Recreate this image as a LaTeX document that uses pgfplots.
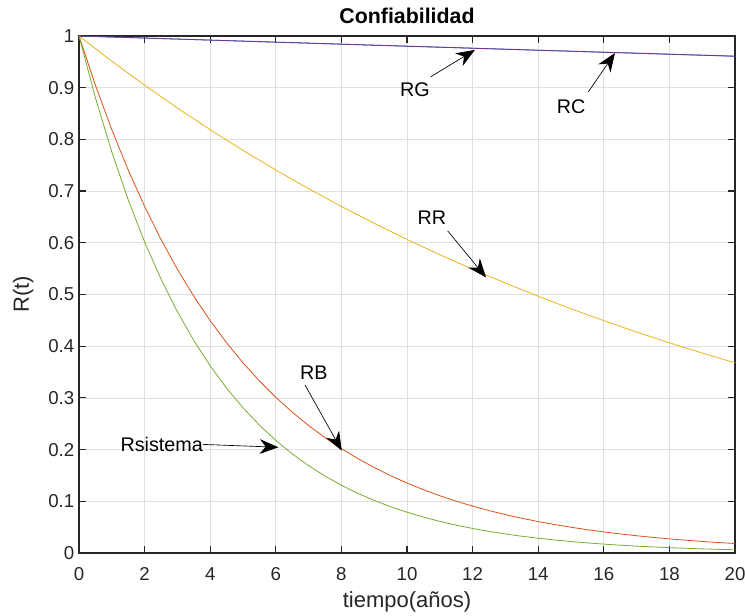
\documentclass[border=0pt]{standalone}
\usepackage{fontspec}
\setmainfont{Liberation Sans}
\usepackage{pgfplots}
\pgfplotsset{compat=1.18}
\usetikzlibrary{arrows.meta}
\definecolor{mblue}{rgb}{0,0.447,0.741}
\definecolor{mpurple}{rgb}{0.494,0.184,0.556}
\definecolor{myellow}{rgb}{0.929,0.694,0.125}
\definecolor{morange}{rgb}{0.850,0.325,0.098}
\definecolor{mgreen}{rgb}{0.466,0.674,0.188}
\definecolor{axgray}{rgb}{0.15,0.15,0.15}
\tikzset{
  annot/.style={font=\fontsize{14.8}{16}\selectfont},
  arr/.style={-{Stealth[length=14pt,width=11pt,inset=4.5pt]}, line width=0.5pt, black},
}
\begin{document}
\begin{tikzpicture}
\begin{axis}[at={(0,0)}, anchor=south west, scale only axis,
  width=492pt, height=387.75pt,
  xmin=0, xmax=20, ymin=0, ymax=1,
  xtick={0,2,4,6,8,10,12,14,16,18,20},
  ytick={0,0.1,0.2,0.3,0.4,0.5,0.6,0.7,0.8,0.9,1},
  grid=major, grid style={color=black!12, line width=0.5pt},
  axis line style={color=axgray, line width=0.9pt},
  tick style={color=axgray, line width=0.9pt},
  tick align=inside, major tick length=5.5pt,
  ticklabel style={font=\fontsize{14}{16}\selectfont, color=axgray},
  xticklabel style={yshift=-7.5pt},
  /pgf/number format/assume math mode=true,
  xlabel={tiempo(años)}, ylabel={R(t)},
  label style={font=\fontsize{16.5}{18}\selectfont, color=axgray},
  xlabel style={at={(axis description cs:0.5,-0.095)}, anchor=center},
  ylabel style={at={(axis description cs:-0.085,0.5)}, anchor=center},
  title={Confiabilidad},
  title style={font=\bfseries\fontsize{16}{18}\selectfont},
]
% RG
\addplot[mblue, line width=0.6pt] coordinates {(0,1) (5,0.99005) (10,0.980199) (15,0.970446) (20,0.960789)};
% RC
\addplot[mpurple, line width=0.6pt] coordinates {(0,1) (5,0.99010) (10,0.980300) (15,0.970600) (20,0.961000)};
% RR
\addplot[myellow, line width=0.6pt] coordinates {
(0,1) (1,0.951229) (2,0.904837) (3,0.860708) (4,0.818731) (5,0.778801)
(6,0.740818) (7,0.704688) (8,0.670320) (9,0.637628) (10,0.606531)
(11,0.576950) (12,0.548812) (13,0.522046) (14,0.496585) (15,0.472367)
(16,0.449329) (17,0.427415) (18,0.406570) (19,0.386741) (20,0.367879)};
% RB
\addplot[morange, line width=0.6pt] coordinates {
(0,1) (0.5,0.904837) (1,0.818731) (1.5,0.740818) (2,0.670320) (2.5,0.606531)
(3,0.548812) (3.5,0.496585) (4,0.449329) (4.5,0.406570) (5,0.367879)
(5.5,0.332871) (6,0.301194) (6.5,0.272532) (7,0.246597) (7.5,0.223130)
(8,0.201897) (8.5,0.182684) (9,0.165299) (9.5,0.149569) (10,0.135335)
(10.5,0.122456) (11,0.110803) (11.5,0.100259) (12,0.090718) (12.5,0.082085)
(13,0.074274) (13.5,0.067206) (14,0.060810) (14.5,0.055023) (15,0.049787)
(15.5,0.045049) (16,0.040762) (16.5,0.036883) (17,0.033373) (17.5,0.030197)
(18,0.027324) (18.5,0.024724) (19,0.022371) (19.5,0.020242) (20,0.018316)};
% Rsistema
\addplot[mgreen, line width=0.6pt] coordinates {
(0,1) (0.5,0.880734) (1,0.775692) (1.5,0.683178) (2,0.601698) (2.5,0.529935)
(3,0.466732) (3.5,0.411066) (4,0.362040) (4.5,0.318861) (5,0.280831)
(5.5,0.247339) (6,0.217840) (6.5,0.191859) (7,0.168977) (7.5,0.148824)
(8,0.131074) (8.5,0.115441) (9,0.101673) (9.5,0.089547) (10,0.078866)
(10.5,0.069460) (11,0.061176) (11.5,0.053880) (12,0.047454) (12.5,0.041794)
(13,0.036810) (13.5,0.032419) (14,0.028553) (14.5,0.025147) (15,0.022148)
(15.5,0.019507) (16,0.017180) (16.5,0.015131) (17,0.013327) (17.5,0.011737)
(18,0.010337) (18.5,0.009104) (19,0.008019) (19.5,0.007062) (20,0.006220)};
% annotations
\node[annot] at (axis cs:10.24,0.896) {RG};
\draw[arr] (axis cs:10.72,0.921) -- (axis cs:12.07,0.973);
\node[annot] at (axis cs:15.0,0.863) {RC};
\draw[arr] (axis cs:15.53,0.892) -- (axis cs:16.34,0.967);
\node[annot] at (axis cs:10.76,0.648) {RR};
\draw[arr] (axis cs:11.24,0.623) -- (axis cs:12.41,0.533);
\node[annot] at (axis cs:7.16,0.348) {RB};
\draw[arr] (axis cs:6.89,0.325) -- (axis cs:8.01,0.198);
\node[annot] at (axis cs:2.52,0.209) {Rsistema};
\draw[arr] (axis cs:3.79,0.210) -- (axis cs:6.08,0.2045);
\end{axis}
\pgfresetboundingbox
\path[use as bounding box] (-59.25pt,-47.25pt) rectangle (499.5pt,414.75pt);
\end{tikzpicture}
\end{document}
